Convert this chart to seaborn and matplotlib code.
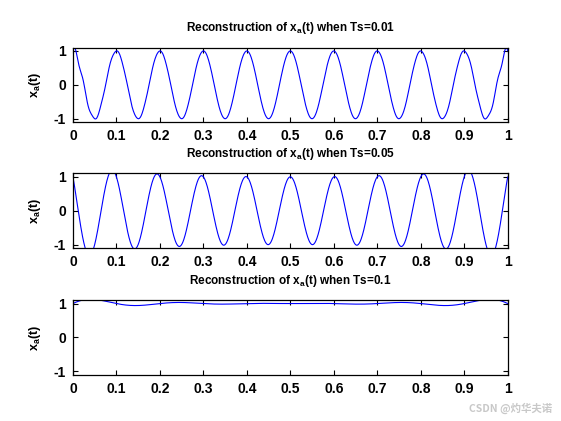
import numpy as np
import pandas as pd
import seaborn as sns
import matplotlib.pyplot as plt

# sample spacings and the samples read at t = n*Ts (x_a(t) = cos(20*pi*t))
ts_list = [0.01, 0.05, 0.1]
one_period_001 = [1.0, 0.809, 0.309, -0.309, -0.809, -1.0, -0.809, -0.309, 0.309, 0.809]
samples_001 = one_period_001 * 10 + [1.0]
samples_005 = [1.0, -1.0] * 10 + [1.0]
samples_01 = [1.0] * 11
samples_list = [samples_001, samples_005, samples_01]

x_ticks = [0, 0.1, 0.2, 0.3, 0.4, 0.5, 0.6, 0.7, 0.8, 0.9, 1]
x_labels = ["0", "0.1", "0.2", "0.3", "0.4", "0.5", "0.6", "0.7", "0.8", "0.9", "1"]
y_ticks = [-1, 0, 1]
y_labels = ["-1", "0", "1"]

t = np.arange(0, 1.0005, 0.001)


def reconstruir(muestras, Ts):
    # ideal sinc interpolation from the finite set of samples
    n = np.arange(len(muestras))
    return np.array(muestras) @ np.sinc((t[None, :] - n[:, None] * Ts) / Ts)


sns.set_theme(style="ticks")
plt.rcParams["font.family"] = ["Liberation Sans", "DejaVu Sans"]
plt.rcParams["font.weight"] = "bold"
plt.rcParams["text.color"] = "black"
plt.rcParams["axes.labelcolor"] = "black"
plt.rcParams["mathtext.fontset"] = "custom"
plt.rcParams["mathtext.rm"] = "Liberation Sans:bold"
plt.rcParams["mathtext.it"] = "Liberation Sans:bold"
plt.rcParams["mathtext.bf"] = "Liberation Sans:bold"

fig = plt.figure(figsize=(5.61, 4.21), dpi=100)
fig.patch.set_facecolor("white")
bottoms = [0.710, 0.411, 0.110]

for Ts, muestras, b in zip(ts_list, samples_list, bottoms):
    ax = fig.add_axes([0.13, b, 0.775, 0.177])
    df = pd.DataFrame({"t": t, "xa": reconstruir(muestras, Ts)})
    sns.lineplot(data=df, x="t", y="xa", ax=ax, color="#0000ff", linewidth=0.8)
    ax.set_xlim(0, 1)
    ax.set_ylim(-1.1, 1.1)
    ax.set_xticks(x_ticks)
    ax.set_xticklabels(x_labels)
    ax.set_yticks(y_ticks)
    ax.set_yticklabels(y_labels)
    ax.tick_params(direction="in", length=3.5, width=0.8, top=True, right=True,
                   labelsize=10, pad=5, colors="black")
    for s in ax.spines.values():
        s.set_linewidth(0.9)
        s.set_color("black")
    ax.set_xlabel("")
    ax.set_ylabel(r"x$_\mathbf{a}$(t)", fontsize=9, fontweight="bold", labelpad=8,
                  color="black")
    ax.set_title(r"Reconstruction of x$_\mathbf{a}$(t) when Ts=" + str(Ts),
                 fontsize=8.5, fontweight="bold", pad=12, color="black")
    ax.set_facecolor("white")

fig.text(0.984, 0.031, "CSDN @灼华夫诺", ha="right", va="center", fontsize=7.5,
         color="#c8c8c8", family=["Noto Sans CJK SC", "DejaVu Sans"])

fig.savefig("out.png", dpi=100, facecolor="white")
